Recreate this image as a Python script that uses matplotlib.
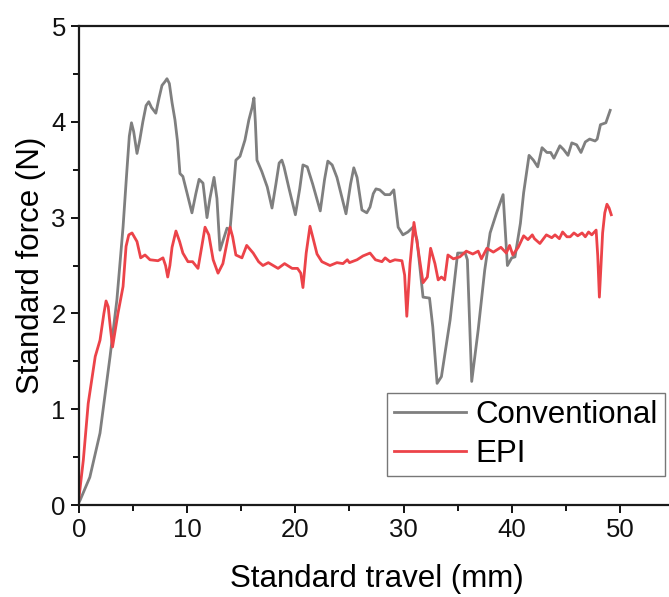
import matplotlib
matplotlib.use('Agg')
import matplotlib.pyplot as plt
from matplotlib.ticker import MultipleLocator

conv_x = [0.0, 0.1, 1.0, 1.94, 2.87, 3.5, 4.07, 4.4, 4.65, 4.85, 5.05, 5.36, 5.6, 5.9, 6.2, 6.45, 6.7,
          7.1, 7.4, 7.67, 7.95, 8.13, 8.35, 8.6, 8.87, 9.1, 9.33, 9.6, 10.0, 10.44, 10.8, 11.1, 11.46,
          11.83, 12.1, 12.48, 12.75, 13.03, 13.68, 13.96, 14.5, 14.88, 15.34, 15.7, 16.0, 16.17, 16.3,
          16.45, 16.9, 17.4, 17.84, 18.2, 18.5, 18.75, 18.95, 19.4, 20.0, 20.4, 20.7, 21.1, 21.6, 22.3,
          22.7, 23.0, 23.4, 23.84, 24.68, 25.1, 25.4, 25.7, 26.15, 26.6, 26.9, 27.2, 27.45, 27.8, 28.28,
          28.74, 29.1, 29.5, 29.94, 30.4, 30.87, 31.24, 31.8, 32.4, 32.7, 33.1, 33.5, 34.3, 35.0, 35.7,
          35.9, 36.3, 36.9, 37.5, 38.0, 38.6, 39.2, 39.6, 40.0, 40.3, 40.8, 41.1, 41.6, 42.0, 42.4, 42.8,
          43.25, 43.6, 43.9, 44.45, 44.8, 45.2, 45.55, 46.0, 46.4, 46.8, 47.2, 47.7, 47.9, 48.2, 48.7,
          49.1]
conv_y = [0.03, 0.05, 0.29, 0.75, 1.55, 2.14, 2.9, 3.45, 3.85, 3.99, 3.9, 3.67, 3.8, 4.0, 4.17, 4.21,
          4.15, 4.09, 4.25, 4.38, 4.42, 4.45, 4.4, 4.2, 4.02, 3.8, 3.46, 3.43, 3.25, 3.05, 3.25, 3.40,
          3.36, 3.0, 3.2, 3.42, 3.2, 2.66, 2.89, 2.87, 3.6, 3.64, 3.81, 4.02, 4.15, 4.25, 4.0, 3.60,
          3.48, 3.32, 3.10, 3.35, 3.57, 3.6, 3.53, 3.31, 3.03, 3.3, 3.55, 3.53, 3.35, 3.07, 3.4, 3.59,
          3.55, 3.42, 3.04, 3.35, 3.52, 3.42, 3.08, 3.05, 3.11, 3.25, 3.30, 3.29, 3.24, 3.24, 3.29, 2.90,
          2.82, 2.85, 2.90, 2.77, 2.17, 2.16, 1.86, 1.27, 1.34, 1.93, 2.63, 2.63, 2.56, 1.29, 1.83, 2.45,
          2.84, 3.05, 3.24, 2.50, 2.58, 2.59, 2.94, 3.26, 3.65, 3.60, 3.53, 3.73, 3.68, 3.68, 3.62, 3.75,
          3.71, 3.65, 3.78, 3.76, 3.68, 3.79, 3.82, 3.80, 3.82, 3.97, 3.99, 4.12]

epi_x = [0.0, 0.4, 0.85, 1.5, 1.94, 2.3, 2.5, 2.7, 2.9, 3.1, 3.6, 4.07, 4.35, 4.6, 4.9, 5.36, 5.7, 6.1,
         6.56, 7.3, 7.76, 8.0, 8.2, 8.4, 8.6, 8.96, 9.3, 9.6, 10.07, 10.5, 11.0, 11.35, 11.65, 12.0, 12.4,
         12.85, 13.3, 13.7, 13.96, 14.2, 14.5, 15.06, 15.5, 16.1, 16.6, 17.0, 17.5, 18.4, 19.0, 19.7,
         20.2, 20.5, 20.7, 21.0, 21.35, 21.6, 22.0, 22.45, 23.2, 23.84, 24.4, 24.8, 25.0, 25.7, 26.25,
         26.9, 27.4, 28.0, 28.3, 28.74, 29.2, 29.85, 30.1, 30.3, 30.6, 30.96, 31.33, 31.8, 32.2, 32.5,
         32.9, 33.2, 33.5, 33.8, 34.1, 34.6, 35.2, 35.8, 36.4, 36.9, 37.2, 37.7, 38.3, 39.0, 39.5, 39.8,
         40.1, 40.6, 41.1, 41.5, 41.9, 42.1, 42.6, 43.2, 43.7, 44.0, 44.4, 44.7, 45.1, 45.4, 45.75, 46.1,
         46.5, 46.8, 47.1, 47.4, 47.8, 47.95, 48.1, 48.25, 48.4, 48.6, 48.8, 49.0, 49.2]
epi_y = [0.08, 0.47, 1.06, 1.55, 1.72, 2.0, 2.13, 2.07, 1.85, 1.65, 2.0, 2.28, 2.7, 2.82, 2.84, 2.75,
         2.58, 2.61, 2.56, 2.55, 2.58, 2.5, 2.38, 2.5, 2.69, 2.86, 2.75, 2.63, 2.54, 2.54, 2.47, 2.7,
         2.90, 2.82, 2.56, 2.42, 2.52, 2.75, 2.90, 2.8, 2.61, 2.58, 2.71, 2.63, 2.54, 2.50, 2.53, 2.47,
         2.52, 2.47, 2.47, 2.42, 2.27, 2.63, 2.91, 2.8, 2.62, 2.54, 2.50, 2.53, 2.52, 2.56, 2.53, 2.56,
         2.60, 2.63, 2.56, 2.54, 2.58, 2.54, 2.56, 2.55, 2.4, 1.97, 2.52, 2.95, 2.68, 2.32, 2.38, 2.68,
         2.52, 2.35, 2.38, 2.35, 2.61, 2.57, 2.59, 2.65, 2.62, 2.65, 2.57, 2.68, 2.64, 2.69, 2.63, 2.71,
         2.61, 2.69, 2.81, 2.77, 2.82, 2.78, 2.73, 2.82, 2.79, 2.82, 2.78, 2.85, 2.80, 2.80, 2.84, 2.81,
         2.84, 2.80, 2.85, 2.82, 2.87, 2.6, 2.17, 2.5, 2.84, 3.05, 3.14, 3.1, 3.03]

plt.rcParams['font.family'] = ['Liberation Sans', 'DejaVu Sans']

fig = plt.figure(figsize=(6.69, 5.97), dpi=100)
ax = fig.add_axes([0.1181, 0.1541, 0.8894, 0.8023])

ax.plot(conv_x, conv_y, color='#7f7f7f', lw=2.0, label='Conventional', solid_joinstyle='round')
ax.plot(epi_x, epi_y, color='#ec4349', lw=2.0, label='EPI', solid_joinstyle='round')

ax.set_xlim(0, 55)
ax.set_ylim(0, 5)
ax.xaxis.set_major_locator(MultipleLocator(10))
ax.xaxis.set_minor_locator(MultipleLocator(5))
ax.yaxis.set_major_locator(MultipleLocator(1))
ax.yaxis.set_minor_locator(MultipleLocator(0.5))
ax.tick_params(which='both', direction='out', width=1.4, labelsize=18.5, colors='#111111')
ax.tick_params(which='major', length=6)
ax.tick_params(which='minor', length=4)
for s in ax.spines.values():
    s.set_linewidth(1.6)
    s.set_color('#1a1a1a')

ax.set_xlabel('Standard travel (mm)', fontsize=22.5, labelpad=16)
ax.set_ylabel('Standard force (N)', fontsize=22.5, labelpad=4)

leg = ax.legend(loc='upper left', bbox_to_anchor=(0.518, 0.234), fontsize=22.5, frameon=True,
                fancybox=False, edgecolor='#555555', handlelength=2.3, handletextpad=0.3,
                borderpad=0.22, labelspacing=0.3, borderaxespad=0)
leg.get_frame().set_linewidth(1.0)

fig.savefig('out.png', dpi=100)
